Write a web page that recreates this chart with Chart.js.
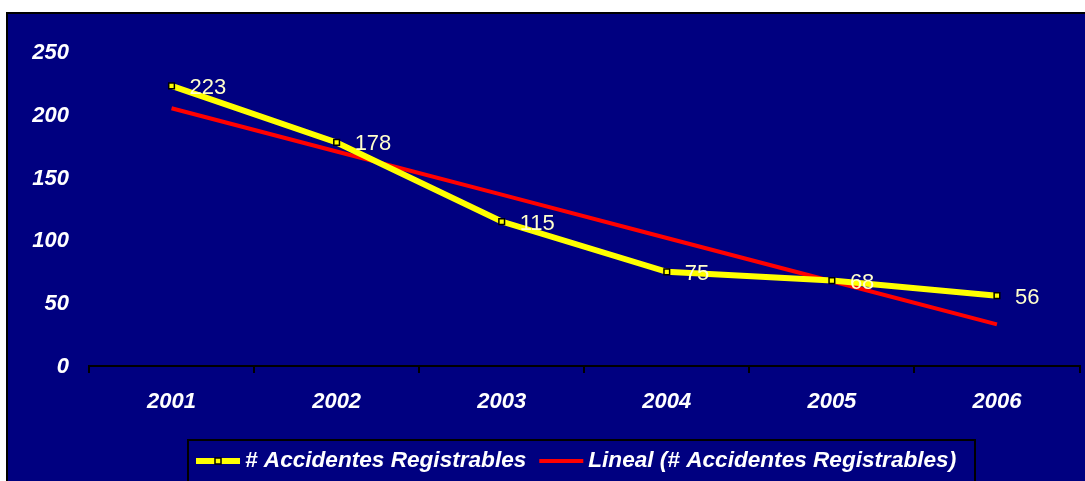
<!DOCTYPE html>
<html>
<head>
<meta charset="utf-8">
<script src="https://cdn.jsdelivr.net/npm/chart.js@4/dist/chart.umd.min.js"></script>
<style>
  html, body { margin: 0; padding: 0; background: #ffffff; }
  #wrap { position: relative; width: 1085px; height: 481px; }
</style>
</head>
<body>
<div id="wrap"><canvas id="c" width="1085" height="481"></canvas></div>
<script>
// Años y accidentes registrables por año
const years = ['2001', '2002', '2003', '2004', '2005', '2006'];
const accidents = [223, 178, 115, 75, 68, 56];
// Línea de tendencia lineal, valor por año
const trend = [205.2, 170.8, 136.4, 101.9, 67.5, 33.1];
// Marcas del eje vertical
const yTicks = [0, 50, 100, 150, 200, 250];

const seriesNames = ['# Accidentes Registrables', 'Lineal (# Accidentes Registrables)'];

const FONT = '"Liberation Sans", Arial, sans-serif';

// Fondo azul marino con borde negro
const backdrop = {
  id: 'backdrop',
  beforeDraw(chart) {
    const ctx = chart.ctx;
    ctx.save();
    ctx.fillStyle = '#ffffff';
    ctx.fillRect(0, 0, chart.width, chart.height);
    ctx.fillStyle = '#000000';
    ctx.fillRect(6, 12, chart.width - 6, chart.height - 12);
    ctx.fillStyle = '#000080';
    ctx.fillRect(8, 14, chart.width - 8, chart.height - 14);
    ctx.restore();
  }
};

// Etiquetas de valor a la derecha de cada punto
const valueLabels = {
  id: 'valueLabels',
  afterDatasetsDraw(chart) {
    const ctx = chart.ctx;
    const meta = chart.getDatasetMeta(0);
    const data = chart.data.datasets[0].data;
    ctx.save();
    ctx.font = '22px ' + FONT;
    ctx.fillStyle = '#FFFFCC';
    ctx.textAlign = 'left';
    ctx.textBaseline = 'middle';
    meta.data.forEach((pt, i) => {
      ctx.fillText(String(data[i]), pt.x + 18, pt.y + 2);
    });
    ctx.restore();
  }
};

// Leyenda con recuadro negro
const boxedLegend = {
  id: 'boxedLegend',
  afterDraw(chart) {
    const ctx = chart.ctx;
    const ds = chart.data.datasets;
    const left = 188, right = 975, top = 440, bottom = 480;
    const cy = (top + bottom) / 2 + 1;
    ctx.save();
    ctx.strokeStyle = '#000000';
    ctx.lineWidth = 2;
    ctx.strokeRect(left, top, right - left, bottom - top + 4);
    ctx.font = 'italic bold 22.6px ' + FONT;
    ctx.textBaseline = 'middle';
    ctx.textAlign = 'left';
    let x = left + 8;
    ds.forEach((d, i) => {
      ctx.strokeStyle = d.borderColor;
      ctx.lineWidth = d.borderWidth;
      ctx.beginPath();
      ctx.moveTo(x, cy);
      ctx.lineTo(x + 44, cy);
      ctx.stroke();
      if (d.pointRadius > 0) {
        ctx.fillStyle = d.pointBackgroundColor;
        ctx.strokeStyle = d.pointBorderColor;
        ctx.lineWidth = d.pointBorderWidth;
        ctx.fillRect(x + 19, cy - 3, 6, 6);
        ctx.strokeRect(x + 19, cy - 3, 6, 6);
      }
      x += 49;
      ctx.fillStyle = '#ffffff';
      ctx.fillText(d.label, x, cy);
      x += ctx.measureText(d.label).width + 13;
    });
    ctx.restore();
  }
};

new Chart(document.getElementById('c'), {
  type: 'line',
  data: {
    labels: years,
    datasets: [
      {
        label: seriesNames[0],
        data: accidents,
        borderColor: '#FFFF00',
        borderWidth: 6,
        pointStyle: 'rect',
        pointRadius: 4,
        pointHoverRadius: 4,
        pointBackgroundColor: '#FFFF00',
        pointBorderColor: '#000000',
        pointBorderWidth: 1.5,
        tension: 0,
        order: 1
      },
      {
        label: seriesNames[1],
        data: trend,
        borderColor: '#FF0000',
        borderWidth: 4,
        pointRadius: 0,
        pointHoverRadius: 0,
        tension: 0,
        order: 2
      }
    ]
  },
  options: {
    responsive: false,
    animation: false,
    events: [],
    layout: { padding: { left: 8, right: 5, top: 52, bottom: 0 } },
    plugins: {
      legend: { display: false },
      tooltip: { enabled: false }
    },
    scales: {
      x: {
        type: 'category',
        offset: true,
        afterFit(scale) { scale.height = 115; },
        grid: {
          display: true,
          offset: true,
          drawOnChartArea: false,
          drawTicks: true,
          tickLength: 7,
          color: '#000000',
          lineWidth: 2
        },
        border: { display: true, color: '#000000', width: 2 },
        ticks: {
          color: '#ffffff',
          padding: 16,
          font: { family: FONT, size: 22, style: 'italic', weight: 'bold' },
          maxRotation: 0
        }
      },
      y: {
        min: 0,
        max: 250,
        afterFit(scale) { scale.width = 81; },
        afterBuildTicks(scale) { scale.ticks = yTicks.map(v => ({ value: v })); },
        grid: { display: false, drawTicks: false },
        border: { display: false },
        ticks: {
          color: '#ffffff',
          padding: 20,
          labelOffset: 1,
          font: { family: FONT, size: 22, style: 'italic', weight: 'bold' }
        }
      }
    }
  },
  plugins: [backdrop, valueLabels, boxedLegend]
});
</script>
</body>
</html>
